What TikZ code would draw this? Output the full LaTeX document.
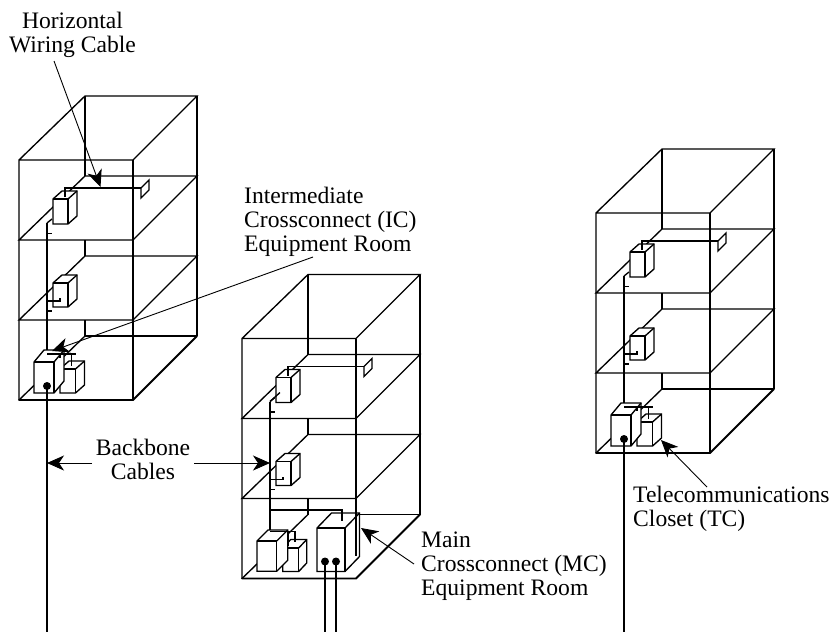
\documentclass[tikz,border=0pt]{standalone}
\usepackage{fontspec}
\setmainfont{Liberation Serif}
\usetikzlibrary{arrows.meta}
\tikzset{
  wire/.style={line width=1.35pt,black,line join=miter},
  heavy/.style={line width=1.8pt,black},
  thin lead/.style={line width=0.9pt,black},
  cube face/.style={wire,fill=white},
  label text/.style={inner sep=0pt,align=left,font=\fontsize{23.6}{24}\selectfont},
  lead/.style={thin lead,-{Stealth[length=17pt,width=15pt,inset=5pt]}},
  tap/.style={black,fill=black,circle,inner sep=0pt,minimum size=8pt}
}
% front-top-left x,y ; w,h ; dx,dy
\newcommand{\cubebox}[6]{%
  \begin{scope}[shift={(#1,#2)}]
    \draw[cube face] (0,0) -- (#5,-#6) -- ({#3+#5},-#6) -- ({#3+#5},{#4-#6}) -- (#3,#4) -- (0,#4) -- cycle;
    \draw[wire] (0,0) -- (#3,0) -- (#3,#4);
    \draw[wire] (#3,0) -- ({#3+#5},-#6);
  \end{scope}}
\newcommand{\shell}{%
  \draw[wire] (0,240) -- (0,0) -- (114,0) -- (178,-64) -- (66,-64) -- (0,0);
  \draw[wire] (66,-64) -- (66,16);
  \draw[wire] (178,-64) -- (178,176);
  \foreach \fl in {80,160} {
    \draw[wire] (114,\fl) -- (0,\fl) -- (66,\fl-64) -- (178,\fl-64) -- cycle;
    \draw[wire] (66,\fl) -- (66,\fl+16);
  }
  \draw[wire] (0,240) -- (66,176);}
\newcommand{\upperfloors}{%
  \cubebox{34}{39}{15}{25}{9}{8}
  \cubebox{34}{123}{15}{24}{9}{8}
  \draw[wire] (46,37) -- (46,28) -- (122,28);
  \draw[wire] (122,28) -- (130,20) -- (130,30) -- (122,38) -- cycle;
  \draw[wire] (33,59) -- (28,63);
  \draw[wire] (28,73.5) -- (33,73.5);
  \draw[wire] (28,141) -- (41,141) -- (41,138);
  \draw[wire] (28,151) -- (33,151);}
\newcommand{\closetfloor}{%
  \cubebox{41}{209}{15.5}{24}{9}{8}
  \cubebox{15}{202}{20}{31}{10}{12}
  \draw[wire] (28,194) -- (57,194);
  \draw[wire] (41,194) -- (41,198);
  \draw[wire] (52.5,194) -- (52.5,206);
  \node[tap] at (28,226) {};}
\begin{document}
\begin{tikzpicture}[x=1pt,y=-1pt]
\useasboundingbox (0,0) rectangle (834,632);

% left building
\begin{scope}[shift={(19,160)}]
  \shell
  \draw[wire] (114,0) -- (114,240);
  \draw[heavy,line cap=round] (0,240) -- (114,240) -- (178,176);
  \draw[wire] (178,176) -- (66,176);
  \draw[wire] (28,63) -- (28,190);
  \upperfloors
  \closetfloor
  \draw[wire] (28,226) -- (28,472);
\end{scope}

% middle building
\begin{scope}[shift={(242,338.5)}]
  \shell
  \draw[wire] (114,176) -- (178,176);
  \draw[heavy,line cap=round] (0,240) -- (114,240) -- (178,176);
  \upperfloors
  \draw[wire] (28,63) -- (38,54);
  \draw[wire] (28,63) -- (28,192);
  \draw[wire] (28,171.5) -- (100,171.5) -- (100,182.5);
  \cubebox{40.7}{209.5}{16}{23.5}{8}{8.5}
  \cubebox{15}{202.5}{19.7}{30.3}{11}{11}
  \cubebox{75}{189.5}{28}{43.5}{14.5}{15}
  \draw[wire] (28,193) -- (53,193) -- (53,203);
  \draw[wire] (46,192) -- (46,207);
  \draw[wire] (114,0) -- (114,217);
  \draw[wire] (100,171.5) -- (100,182.5);
  \node[tap] (mcA) at (83,223) {};
  \node[tap] (mcB) at (94,223) {};
  \draw[wire] (83,223) -- (83,293.5);
  \draw[wire] (94,223) -- (94,293.5);
\end{scope}

% right building
\begin{scope}[shift={(596,213)}]
  \shell
  \draw[wire] (114,0) -- (114,240);
  \draw[heavy,line cap=round] (0,240) -- (114,240) -- (178,176);
  \draw[wire] (178,176) -- (66,176);
  \draw[wire] (28,63) -- (28,190);
  \upperfloors
  \closetfloor
  \draw[wire] (28,226) -- (28,419);
\end{scope}

% labels
\node[label text,anchor=north,align=center] (hwc) at (72.5,12) {Horizontal\\Wiring Cable};
\node[label text,anchor=north west] (ic) at (244,187) {Intermediate\\Crossconnect (IC)\\Equipment Room};
\node[label text,anchor=north,align=center] (bb) at (143,439) {Backbone\\Cables};
\node[label text,anchor=north west] (mc) at (421,532) {Main\\Crossconnect (MC)\\Equipment Room};
\node[label text,anchor=north west] (tc) at (633,486) {Telecommunications\\Closet (TC)};

% leaders
\coordinate (hwcTail) at (54,61);  \coordinate (hwcTip) at (100.5,187);
\coordinate (icTail) at (313,257); \coordinate (icTip) at (52,351);
\coordinate (bbL) at (92,463);     \coordinate (bbLTip) at (47,463);
\coordinate (bbR) at (194,463);    \coordinate (bbRTip) at (270,463);
\coordinate (mcTail) at (414,564); \coordinate (mcTip) at (361,528);
\coordinate (tcTail) at (707,487); \coordinate (tcTip) at (661,440);
\draw[lead] (hwcTail) -- (hwcTip);
\draw[lead] (icTail) -- (icTip);
\draw[lead] (bbL) -- (bbLTip);
\draw[lead] (bbR) -- (bbRTip);
\draw[lead] (mcTail) -- (mcTip);
\draw[lead] (tcTail) -- (tcTip);
\end{tikzpicture}
\end{document}
